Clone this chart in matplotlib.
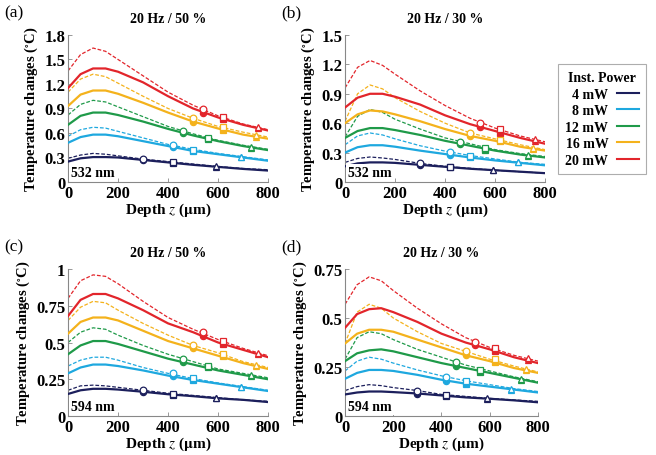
import matplotlib.pyplot as plt
from matplotlib.lines import Line2D

plt.rcParams['font.family'] = ['Liberation Serif', 'DejaVu Serif']
plt.rcParams['mathtext.fontset'] = 'stix'

# depth grid (um) used for every curve
depth = [0, 50, 100, 150, 200, 300, 400, 500, 600, 700, 800]

powers = ['4 mW', '8 mW', '12 mW', '16 mW', '20 mW']
colors = ['#1c1f5c', '#1ea8df', '#1f9a49', '#f4b21c', '#e2252b']

# depths where the symbols sit (circle, square, triangle) for each power
mark_depth = [[300, 420, 590], [420, 500, 690], [460, 560, 730],
              [500, 620, 750], [540, 620, 760]]
mark_style = ['o', 's', '^']

# (a) 532 nm, 20 Hz / 50 %
a_solid = [[0.25, 0.29, 0.305, 0.305, 0.30, 0.27, 0.24, 0.21, 0.185, 0.16, 0.14],
           [0.48, 0.55, 0.58, 0.58, 0.56, 0.50, 0.44, 0.38, 0.34, 0.30, 0.26],
           [0.70, 0.81, 0.85, 0.85, 0.82, 0.74, 0.65, 0.57, 0.50, 0.44, 0.39],
           [0.93, 1.07, 1.12, 1.12, 1.08, 0.97, 0.85, 0.74, 0.655, 0.58, 0.53],
           [1.15, 1.32, 1.39, 1.39, 1.35, 1.22, 1.05, 0.90, 0.79, 0.70, 0.63]]
a_dash = [[0.29, 0.33, 0.35, 0.34, 0.32, 0.28, 0.25, 0.22, 0.19, 0.165, 0.15],
          [0.56, 0.64, 0.67, 0.66, 0.62, 0.54, 0.46, 0.40, 0.35, 0.31, 0.27],
          [0.82, 0.95, 1.00, 0.98, 0.92, 0.80, 0.68, 0.59, 0.51, 0.45, 0.40],
          [1.10, 1.26, 1.32, 1.29, 1.21, 1.05, 0.90, 0.78, 0.68, 0.61, 0.55],
          [1.36, 1.56, 1.64, 1.60, 1.50, 1.30, 1.10, 0.94, 0.81, 0.71, 0.64]]
a_solid_mk = [[0.27, 0.235, 0.185], [0.43, 0.38, 0.30], [0.60, 0.53, 0.42],
              [0.74, 0.64, 0.55], [0.85, 0.77, 0.655]]
a_dash_mk = [[0.28, 0.245, 0.19], [0.45, 0.39, 0.31], [0.62, 0.54, 0.43],
             [0.78, 0.67, 0.58], [0.89, 0.79, 0.675]]

# (b) 532 nm, 20 Hz / 30 %
b_solid = [[0.16, 0.19, 0.20, 0.20, 0.195, 0.175, 0.155, 0.135, 0.12, 0.105, 0.09],
           [0.30, 0.355, 0.375, 0.375, 0.36, 0.32, 0.285, 0.25, 0.22, 0.195, 0.17],
           [0.45, 0.52, 0.55, 0.55, 0.53, 0.48, 0.42, 0.37, 0.32, 0.28, 0.25],
           [0.60, 0.69, 0.73, 0.72, 0.69, 0.62, 0.54, 0.47, 0.42, 0.36, 0.32],
           [0.76, 0.86, 0.90, 0.90, 0.87, 0.79, 0.68, 0.59, 0.52, 0.45, 0.39]]
b_dash = [[0.20, 0.24, 0.255, 0.245, 0.23, 0.19, 0.16, 0.14, 0.12, 0.105, 0.09],
          [0.38, 0.47, 0.50, 0.48, 0.44, 0.37, 0.315, 0.27, 0.235, 0.20, 0.18],
          [0.46, 0.67, 0.74, 0.71, 0.64, 0.54, 0.45, 0.39, 0.33, 0.29, 0.26],
          [0.62, 0.90, 0.99, 0.95, 0.86, 0.72, 0.60, 0.50, 0.44, 0.38, 0.33],
          [0.96, 1.17, 1.24, 1.19, 1.10, 0.93, 0.78, 0.65, 0.55, 0.47, 0.41]]
b_solid_mk = [[0.17, 0.15, 0.12], [0.28, 0.25, 0.20], [0.39, 0.33, 0.27],
              [0.47, 0.42, 0.34], [0.56, 0.50, 0.42]]
b_dash_mk = [[0.19, 0.155, 0.12], [0.31, 0.27, 0.20], [0.41, 0.35, 0.28],
             [0.50, 0.43, 0.35], [0.60, 0.54, 0.44]]

# (c) 594 nm, 20 Hz / 50 %
c_solid = [[0.15, 0.175, 0.185, 0.185, 0.18, 0.165, 0.148, 0.135, 0.12, 0.11, 0.095],
           [0.29, 0.33, 0.35, 0.35, 0.34, 0.31, 0.275, 0.245, 0.22, 0.195, 0.17],
           [0.42, 0.48, 0.51, 0.51, 0.49, 0.44, 0.39, 0.35, 0.31, 0.28, 0.25],
           [0.56, 0.64, 0.67, 0.67, 0.65, 0.58, 0.51, 0.46, 0.41, 0.36, 0.32],
           [0.68, 0.79, 0.83, 0.83, 0.80, 0.72, 0.63, 0.57, 0.50, 0.45, 0.40]]
c_dash = [[0.175, 0.205, 0.21, 0.205, 0.195, 0.175, 0.155, 0.14, 0.125, 0.11, 0.10],
          [0.34, 0.38, 0.40, 0.40, 0.38, 0.33, 0.29, 0.255, 0.225, 0.20, 0.175],
          [0.50, 0.57, 0.60, 0.59, 0.55, 0.48, 0.42, 0.37, 0.32, 0.29, 0.26],
          [0.65, 0.74, 0.78, 0.77, 0.72, 0.63, 0.55, 0.48, 0.43, 0.37, 0.33],
          [0.80, 0.92, 0.96, 0.95, 0.90, 0.78, 0.67, 0.59, 0.52, 0.46, 0.41]]
c_solid_mk = [[0.165, 0.145, 0.12], [0.27, 0.245, 0.195], [0.37, 0.33, 0.27],
              [0.46, 0.41, 0.34], [0.545, 0.49, 0.42]]
c_dash_mk = [[0.18, 0.15, 0.125], [0.29, 0.26, 0.20], [0.39, 0.34, 0.28],
             [0.48, 0.42, 0.35], [0.57, 0.51, 0.43]]

# (d) 594 nm, 20 Hz / 30 %
d_solid = [[0.11, 0.12, 0.125, 0.125, 0.122, 0.115, 0.105, 0.095, 0.088, 0.08, 0.07],
           [0.19, 0.22, 0.235, 0.235, 0.23, 0.21, 0.185, 0.165, 0.15, 0.135, 0.12],
           [0.28, 0.32, 0.335, 0.34, 0.33, 0.30, 0.27, 0.245, 0.22, 0.195, 0.17],
           [0.37, 0.42, 0.44, 0.44, 0.43, 0.39, 0.35, 0.31, 0.28, 0.245, 0.22],
           [0.45, 0.52, 0.545, 0.55, 0.53, 0.48, 0.42, 0.375, 0.34, 0.30, 0.27]]
d_dash = [[0.13, 0.15, 0.16, 0.155, 0.145, 0.13, 0.11, 0.10, 0.09, 0.082, 0.075],
          [0.23, 0.28, 0.30, 0.29, 0.27, 0.235, 0.205, 0.18, 0.16, 0.14, 0.125],
          [0.29, 0.40, 0.43, 0.42, 0.39, 0.34, 0.30, 0.26, 0.23, 0.20, 0.175],
          [0.37, 0.53, 0.57, 0.55, 0.50, 0.43, 0.37, 0.33, 0.29, 0.255, 0.225],
          [0.57, 0.67, 0.71, 0.69, 0.64, 0.55, 0.47, 0.40, 0.35, 0.31, 0.28]]
d_solid_mk = [[0.11, 0.103, 0.088], [0.18, 0.165, 0.135], [0.255, 0.225, 0.185],
              [0.31, 0.275, 0.235], [0.36, 0.33, 0.285]]
d_dash_mk = [[0.13, 0.105, 0.09], [0.20, 0.18, 0.14], [0.275, 0.235, 0.19],
             [0.33, 0.29, 0.24], [0.38, 0.345, 0.295]]

panels = [
    # label, title, wavelength, solid, dashed, solid marks, dashed marks, ymax, yticks, rect
    ('(a)', '20 Hz / 50 %', '532 nm', a_solid, a_dash, a_solid_mk, a_dash_mk,
     1.8, [0, 0.3, 0.6, 0.9, 1.2, 1.5, 1.8], [0.1037, 0.5987, 0.305, 0.3224]),
    ('(b)', '20 Hz / 30 %', '532 nm', b_solid, b_dash, b_solid_mk, b_dash_mk,
     1.5, [0, 0.3, 0.6, 0.9, 1.2, 1.5], [0.526, 0.5987, 0.305, 0.3224]),
    ('(c)', '20 Hz / 50 %', '594 nm', c_solid, c_dash, c_solid_mk, c_dash_mk,
     1.0, [0, 0.25, 0.5, 0.75, 1], [0.1037, 0.0855, 0.305, 0.3224]),
    ('(d)', '20 Hz / 30 %', '594 nm', d_solid, d_dash, d_solid_mk, d_dash_mk,
     0.75, [0, 0.25, 0.5, 0.75], [0.526, 0.0855, 0.294, 0.3224]),
]

fig = plt.figure(figsize=(6.56, 4.56), dpi=100)

for label, title, wl, solid, dash, smk, dmk, ymax, yticks, rect in panels:
    ax = fig.add_axes(rect)
    for i in range(len(powers)):
        c = colors[i]
        ax.plot(depth, dash[i], '--', color=c, lw=0.9, dashes=(3, 1.5), zorder=2)
        ax.plot(depth, solid[i], '-', color=c, lw=1.6, zorder=3)
        for k in range(3):
            ax.plot(mark_depth[i][k], smk[i][k], mark_style[k], ms=4.5, mfc=c,
                    mec=c, mew=0.9, zorder=4)
            ax.plot(mark_depth[i][k], dmk[i][k], mark_style[k], ms=4.8, mfc='white',
                    mec=c, mew=0.9, zorder=5)
    ax.set_xlim(0, 800)
    ax.set_ylim(0, ymax)
    ax.set_xticks([0, 200, 400, 600, 800])
    ax.set_yticks(yticks)
    ax.set_yticklabels(['%g' % t for t in yticks])
    ax.spines['top'].set_visible(False)
    ax.spines['right'].set_visible(False)
    ax.spines['left'].set_color('#888888')
    ax.spines['bottom'].set_color('#888888')
    ax.tick_params(direction='in', length=3, width=0.6, color='#888888',
                   labelsize=12, pad=2)
    for t in ax.get_xticklabels() + ax.get_yticklabels():
        t.set_fontweight('bold')
    ax.set_xlabel('Depth $\\mathbf{\\it{z}}$ ($\\mathbf{\\mu}$m)', fontsize=11,
                  fontweight='bold', labelpad=0)
    ax.set_ylabel('Temperature changes ($\\mathregular{^{\\circ}}$C)', fontsize=10.5,
                  fontweight='bold', labelpad=3)
    ax.set_title(title, fontsize=10, fontweight='bold', pad=9)
    ax.text(0.015, 0.02, wl, transform=ax.transAxes, fontsize=10, fontweight='bold',
            ha='left', va='bottom', zorder=6,
            bbox=dict(facecolor='white', edgecolor='none', pad=1.5))
    x0 = rect[0] - 0.097
    y0 = rect[1] + rect[3] + 0.05
    fig.text(x0, y0, label, fontsize=12.5, ha='left', va='center')

handles = [Line2D([], [], color=c, lw=1.5) for c in colors]
leg = fig.legend(handles, powers, loc='upper right', bbox_to_anchor=(0.995, 0.872),
                 title='Inst. Power', markerfirst=False, fancybox=False,
                 edgecolor='#999999', handlelength=1.6, handletextpad=0.6,
                 labelspacing=0.25, borderpad=0.5,
                 prop={'weight': 'bold', 'size': 10})
leg.get_title().set_fontweight('bold')
leg.get_title().set_fontsize(10)
leg.get_frame().set_linewidth(0.8)
for t in leg.get_texts():
    t.set_ha('right')

fig.savefig('out.png', dpi=100)
